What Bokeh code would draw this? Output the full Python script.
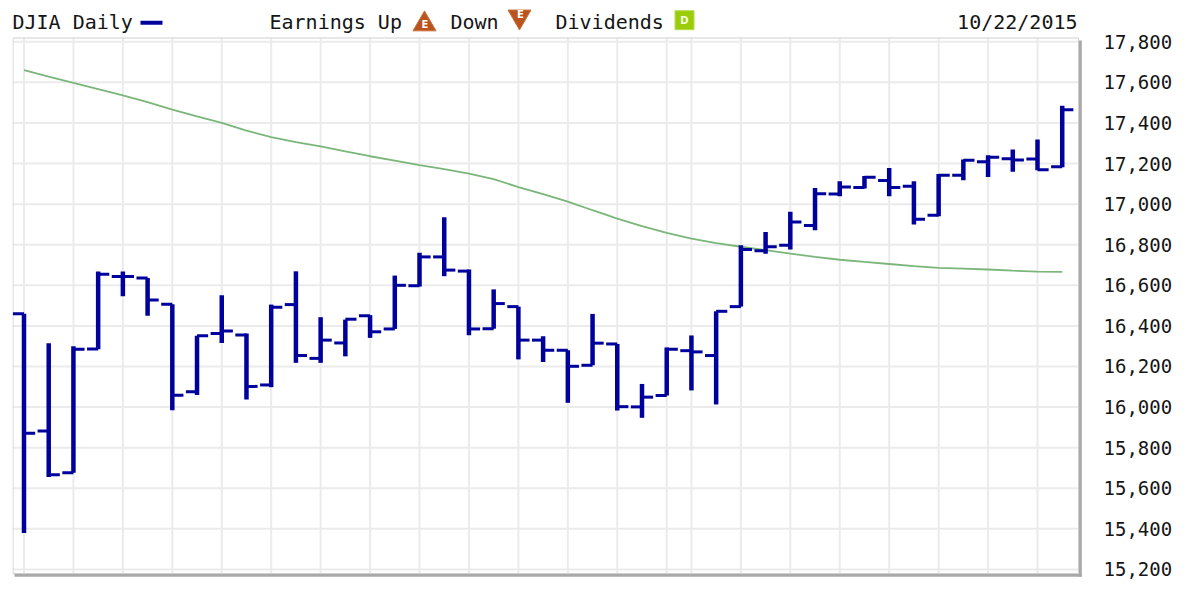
from bokeh.plotting import figure
from bokeh.models import Range1d, FixedTicker, NumeralTickFormatter, ColumnDataSource
from bokeh.core.properties import value
from bokeh.embed import file_html
from bokeh.resources import INLINE

# ---- data (DJIA daily OHLC, Aug 24 - Oct 22, 2015) ----
dates = ["08/24", "08/25", "08/26", "08/27", "08/28", "08/31",
         "09/01", "09/02", "09/03", "09/04", "09/08", "09/09", "09/10", "09/11",
         "09/14", "09/15", "09/16", "09/17", "09/18", "09/21", "09/22", "09/23",
         "09/24", "09/25", "09/28", "09/29", "09/30",
         "10/01", "10/02", "10/05", "10/06", "10/07", "10/08", "10/09", "10/12",
         "10/13", "10/14", "10/15", "10/16", "10/19", "10/20", "10/21", "10/22"]
opens = [16460, 15882, 15676, 16286, 16643, 16636, 16507, 16075, 16363, 16355,
         16109, 16505, 16240, 16316, 16450, 16385, 16598, 16740, 16670, 16386,
         16495, 16330, 16280, 16206, 16311, 16001, 16057, 16278, 16254, 16495,
         16770, 16798, 16895, 17050, 17082, 17117, 17088, 16945, 17142, 17209,
         17224, 17222, 17184]
highs = [16460, 16315, 16300, 16668, 16668, 16636, 16507, 16352, 16551, 16362,
         16505, 16669, 16443, 16431, 16453, 16648, 16760, 16935, 16678, 16580,
         16495, 16349, 16280, 16459, 16311, 16114, 16294, 16353, 16472, 16798,
         16863, 16962, 17080, 17113, 17139, 17178, 17113, 17149, 17220, 17241,
         17269, 17318, 17485]
lows = [15380, 15655, 15676, 16285, 16546, 16450, 15985, 16060, 16316, 16037,
        16098, 16218, 16218, 16250, 16341, 16385, 16594, 16645, 16354, 16386,
        16235, 16222, 16021, 16206, 15983, 15947, 16057, 16082, 16013, 16495,
        16755, 16776, 16871, 17039, 17077, 17039, 16900, 16940, 17118, 17134,
        17159, 17167, 17182]
closes = [15871, 15666, 16285, 16655, 16643, 16528, 16058, 16351, 16375, 16102,
          16492, 16254, 16330, 16433, 16371, 16600, 16740, 16675, 16385, 16510,
          16330, 16280, 16201, 16315, 16002, 16049, 16285, 16272, 16472, 16776,
          16790, 16912, 17051, 17084, 17132, 17082, 16925, 17142, 17216, 17231,
          17217, 17169, 17465]
moving_avg = [17660, 17628, 17597, 17567, 17536, 17503, 17466, 17432, 17400, 17362,
              17330, 17306, 17285, 17260, 17236, 17214, 17192, 17172, 17150, 17123,
              17084, 17049, 17012, 16970, 16929, 16892, 16858, 16830, 16808, 16790,
              16773, 16756, 16740, 16726, 16715, 16705, 16695, 16686, 16682, 16678,
              16672, 16667, 16666]
grid_dates = ["08/24", "08/26", "08/28", "09/01", "09/03", "09/08", "09/10",
              "09/14", "09/16", "09/18", "09/22", "09/24", "09/28", "09/30",
              "10/01", "10/05", "10/07", "10/09", "10/13", "10/15", "10/19", "10/21"]
y_ticks = [15200, 15400, 15600, 15800, 16000, 16200, 16400, 16600,
           16800, 17000, 17200, 17400, 17600, 17800]
series_name = "DJIA Daily"
legend_items = ["Earnings Up", "Down", "Dividends"]
as_of = "10/22/2015"

BLUE = "#00009c"
GREEN = "#7ab67a"
GRID = "#ebebeb"
TXT = "#151515"
MONO = "DejaVu Sans Mono"

# chart-box limits (data units)
X0, X1 = -0.465, 42.66
Y0, Y1 = 15180, 17820

idx = list(range(len(dates)))
TICK = 0.45
src = ColumnDataSource(dict(
    i=idx, o=opens, h=highs, l=lows, c=closes, ma=moving_avg,
    ol=[k - TICK for k in idx], cr=[k + TICK for k in idx]))

p = figure(width=1188, height=586,
           x_range=Range1d(X0, 42.82), y_range=Range1d(15160.3, 18003.4),
           x_axis_location=None, y_axis_location="right",
           min_border_left=12, min_border_top=0, min_border_bottom=9, min_border_right=106,
           output_backend="svg", toolbar_location=None)
# pixel-space ranges for the header / frame decorations
p.extra_x_ranges = {"px": Range1d(12, 1082)}
p.extra_y_ranges = {"px": Range1d(577, 0)}
p.background_fill_color = "white"
p.border_fill_color = "white"
p.outline_line_color = None
p.grid.visible = False

ax = p.yaxis[0]
ax.ticker = FixedTicker(ticks=y_ticks)
ax.formatter = NumeralTickFormatter(format="0,0")
ax.axis_line_color = None
ax.major_tick_line_color = None
ax.minor_tick_line_color = None
ax.major_tick_out = 0
ax.major_tick_in = 0
ax.major_label_standoff = 21
ax.major_label_text_font = MONO
ax.major_label_text_font_size = "19px"
ax.major_label_text_color = TXT

# grid lines inside the chart box
gx = [dates.index(d) for d in grid_dates]
p.segment(x0=gx, y0=[Y0] * len(gx), x1=gx, y1=[Y1] * len(gx),
          line_color=GRID, line_width=2)
p.segment(x0=[X0] * len(y_ticks), y0=y_ticks, x1=[X1] * len(y_ticks), y1=y_ticks,
          line_color=GRID, line_width=2)

# chart box and its shadow (pixel space)
PX = dict(x_range_name="px", y_range_name="px")
p.segment(x0=[1079.8, 14], y0=[40, 574.8], x1=[1079.8, 1081.3], y1=[576.3, 574.8],
          line_color="#a9a9a9", line_width=3, **PX)
p.quad(left=[12.5], right=[1078], top=[37.5], bottom=[573], fill_color=None,
       line_color="#cfcfcf", line_width=1, **PX)

# data
p.line(x="i", y="ma", source=src, line_color=GREEN, line_width=1.8)
p.segment(x0="i", y0="l", x1="i", y1="h", source=src, line_color=BLUE,
          line_width=4.5, line_cap="butt")
p.segment(x0="ol", y0="o", x1="i", y1="o", source=src, line_color=BLUE,
          line_width=3, line_cap="butt")
p.segment(x0="i", y0="c", x1="cr", y1="c", source=src, line_color=BLUE,
          line_width=3, line_cap="butt")

# header row (pixel space)
tf = value(MONO)
BASE = 21
for xx, t in [(12, series_name), (269, legend_items[0]), (450, legend_items[1]),
              (555, legend_items[2])]:
    p.text(x=[xx], y=[BASE], text=[t], text_font=tf, text_font_size="20px",
           text_color=TXT, text_baseline="alphabetic", text_align="left", **PX)
p.text(x=[1077], y=[BASE], text=[as_of], text_font=tf, text_font_size="20px",
       text_color=TXT, text_baseline="alphabetic", text_align="right", **PX)
p.segment(x0=[140], y0=[22.3], x1=[162], y1=[22.3], line_color=BLUE, line_width=4, **PX)
p.scatter(x=[424], y=[23.7], marker="triangle", size=23, fill_color="#b9541f",
          line_color="#c8703e", line_width=1, **PX)
p.text(x=[424.5], y=[24.4], text=["E"], text_font=value("DejaVu Sans"),
       text_font_size="10px", text_font_style="bold", text_color="white",
       text_align="center", text_baseline="middle", **PX)
p.scatter(x=[519], y=[16.2], marker="inverted_triangle", size=23, fill_color="#b9541f",
          line_color="#c8703e", line_width=1, **PX)
p.text(x=[520], y=[14.2], text=["E"], text_font=value("DejaVu Sans"),
       text_font_size="10px", text_font_style="bold", text_color="white",
       text_align="center", text_baseline="middle", **PX)
p.rect(x=[684], y=[19.7], width=19, height=19, fill_color="#9acc0a",
       line_color="#b5dc50", line_width=1, **PX)
p.text(x=[684], y=[19.9], text=["D"], text_font=value("DejaVu Sans"),
       text_font_size="10px", text_font_style="bold", text_color="#f4ffe0",
       text_align="center", text_baseline="middle", **PX)

open("out.html", "w").write(file_html(p, INLINE))
